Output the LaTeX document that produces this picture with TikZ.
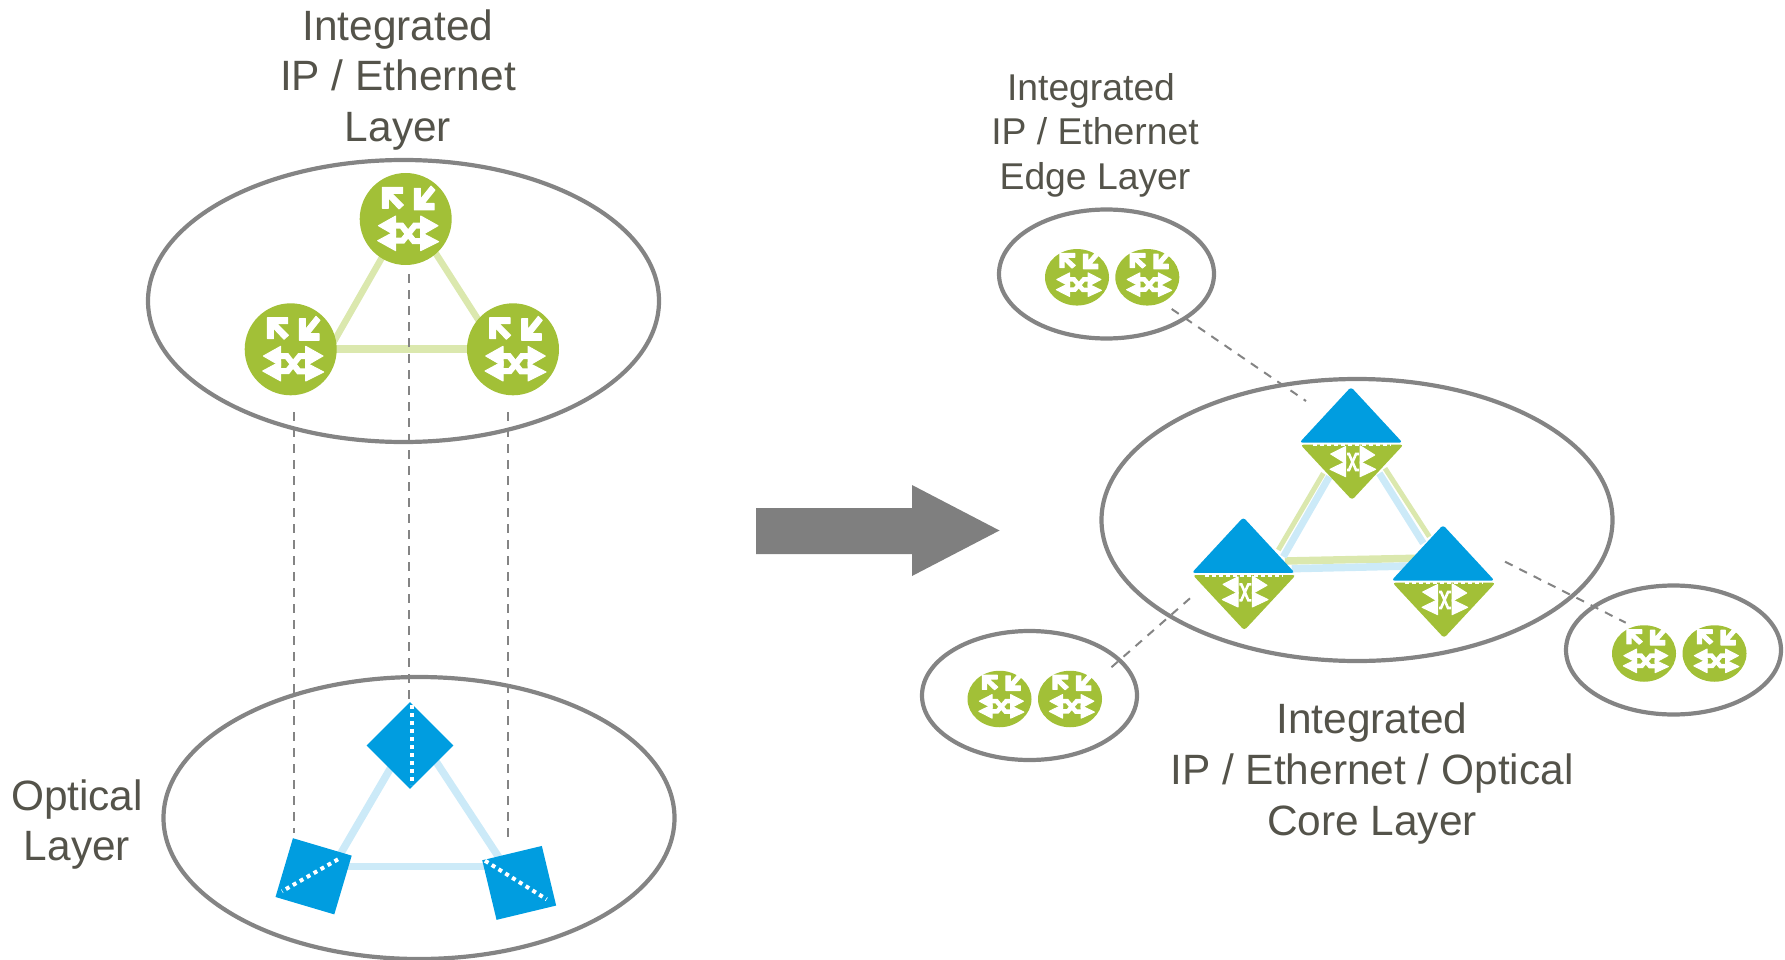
\documentclass[tikz,border=0pt]{standalone}
\usepackage{fontspec}
\setmainfont{Liberation Sans}
\usetikzlibrary{shapes.geometric}
\definecolor{rgreen}{HTML}{A2C037}
\definecolor{rblue}{HTML}{009DE0}
\definecolor{lgreen}{HTML}{DBE8AE}
\definecolor{lblue}{HTML}{CCEAF8}
\definecolor{ringgray}{HTML}{848484}
\definecolor{arrowgray}{HTML}{7F7F7F}
\definecolor{txtgray}{HTML}{54534A}
\tikzset{
  x=1pt,y=-1pt,
  ring/.style={draw=ringgray,line width=4.2pt,ellipse,inner sep=0pt,outer sep=0pt},
  bigring/.style={ring,minimum width=511pt,minimum height=282pt},
  smallring/.style={ring,minimum width=215pt,minimum height=129pt},
  router/.style={circle,fill=rgreen,minimum size=92pt,inner sep=0pt,outer sep=0pt},
  minirouter/.style={ellipse,fill=rgreen,minimum width=64pt,minimum height=56.5pt,inner sep=0pt,outer sep=0pt},
  oxc/.style={rectangle,fill=rblue,minimum size=61.3pt,inner sep=0pt,outer sep=0pt},
  glink/.style={draw=lgreen,line width=7.5pt},
  blink/.style={draw=lblue,line width=7.5pt},
  tie/.style={draw=ringgray,line width=2pt,dash pattern=on 8.5pt off 7.5pt},
  whitedots/.style={draw=white,line width=4pt,dash pattern=on 4pt off 4pt},
  biglabel/.style={text=txtgray,align=center,font=\fontsize{42.4}{50.7}\selectfont,inner sep=0pt},
  smalllabel/.style={text=txtgray,align=center,font=\fontsize{37.3}{44.4}\selectfont,inner sep=0pt},
  glyphfill/.style={fill=white,draw=white,line width=1pt,line join=round},
  pics/routerglyph/.style={code={
    \path[glyphfill] (-23.3,-31.7)--(-3,-31.7)--(-3,-25.7)--(-14,-25.7)--(-2.3,-14)--(-6.7,-10)--(-17.3,-21.3)--(-17.3,-10.7)--(-23.3,-10.7)--cycle;
    \path[glyphfill] (8.7,-9)--(8.7,-30.7)--(14.7,-30.7)--(14.7,-19.7)--(25.3,-33)--(29.3,-29)--(18.7,-15.7)--(28.3,-15.7)--(28.3,-9)--cycle;
    \path[glyphfill] (-27.3,6.7)--(-10,-3)--(-10,16.7)--cycle;
    \path[glyphfill] (-28,21.7)--(-10,12)--(-10,31.7)--cycle;
    \path[glyphfill] (32.3,6.7)--(15,-3)--(15,16.7)--cycle;
    \path[glyphfill] (33,22.7)--(15,13.3)--(15,31.7)--cycle;
    \draw[white,line width=#1pt] (-10,6.7)--(-4,6.7)--(8,22)--(15,22);
    \draw[white,line width=#1pt] (-10,21.7)--(-3,21.7)--(9,6.7)--(15,6.7);
  }},
  pics/coreunit/.style={code={
    \fill[rblue,rounded corners=3pt] (0,-2)--(-51.5,53.6)--(51.5,53.6)--cycle;
    \fill[rgreen,rounded corners=3pt] (-50.5,55.7)--(52.5,55.7)--(1,111)--cycle;
    \draw[white,line width=2.4pt,dash pattern=on 3.5pt off 3.5pt] (-38,56.2)--(40,56.2);
    \path[glyphfill] (-20.3,65)--(-5.3,57.5)--(-5.3,74.3)--cycle;
    \path[glyphfill] (-21,80.3)--(-5.3,72.7)--(-5.3,87.7)--cycle;
    \path[glyphfill] (23.7,66)--(9,56.7)--(9,74.3)--cycle;
    \path[glyphfill] (24.7,80.3)--(9,72.7)--(9,87.7)--cycle;
    \draw[white,line width=2.6pt] (-4,65)--(-2,65)--(5,81)--(8,81);
    \draw[white,line width=2.6pt] (-4,81)--(-2,81)--(5,65)--(8,65);
  }}
}
\begin{document}
\begin{tikzpicture}
\useasboundingbox (0,0) rectangle (1785,960);
% rings
\node[bigring] (ringtop) at (403.5,301) {};
\node[bigring] (ringopt) at (419,818) {};
\node[bigring] (ringcore) at (1357,520) {};
\node[smallring] (ringa) at (1106.5,274) {};
\node[smallring] (ringb) at (1029.5,695.5) {};
\node[smallring] (ringc) at (1673.5,650) {};
% left links and routers
\coordinate (v1) at (408.6,211);
\coordinate (v2) at (329.6,349);
\coordinate (v3) at (497,349);
\draw[glink,line width=6.5pt] (v1) -- (v2);
\draw[glink,line width=6.5pt] (v1) -- (v3);
\draw[glink] (v2) -- (v3);
\node[router] (r1) at (405.7,219) {};
\node[router] (r2) at (290.7,349.3) {};
\node[router] (r3) at (513,349.3) {};
\pic at (r1) {routerglyph=6};
\pic at (r2) {routerglyph=6};
\pic at (r3) {routerglyph=6};
% optical triangle
\coordinate (t1) at (414,728);
\coordinate (t2) at (333,866.7);
\coordinate (t3) at (505,866.7);
\draw[blink] (t1) -- (t2);
\draw[blink] (t1) -- (t3);
\draw[blink] (t2) -- (t3);
\node[oxc,rotate=45] (o1) at (410,745.5) {};
\node[oxc,rotate=-16.5] (o2) at (313.6,876.3) {};
\node[oxc,rotate=13.5] (o3) at (519.2,882.9) {};
\draw[whitedots] (412.3,705) -- (412.3,785);
\draw[whitedots] (338,859.3) -- (282,891.3);
\draw[whitedots] (485,860.7) -- (546.7,899.3);
% vertical ties
\coordinate (d1a) at (293.5,412); \coordinate (d1b) at (293.5,833);
\coordinate (d2a) at (408.5,274); \coordinate (d2b) at (408.5,701);
\coordinate (d3a) at (508,412);   \coordinate (d3b) at (508,841);
\draw[tie] (d1a) -- (d1b);
\draw[tie] (d2a) -- (d2b);
\draw[tie] (d3a) -- (d3b);
% big arrow
\fill[arrowgray] (756,508)--(912,508)--(912,485)--(999.5,530.5)--(912,576)--(912,554)--(756,554)--cycle;
% core links
\coordinate (ga1) at (1323.3,473.3); \coordinate (ga2) at (1278.3,550);
\coordinate (ba1) at (1329.3,476.7); \coordinate (ba2) at (1283.3,556.7);
\coordinate (gb1) at (1285,561);     \coordinate (gb2) at (1415,558.3);
\coordinate (bb1) at (1291.7,568.7); \coordinate (bb2) at (1410,566);
\coordinate (gc1) at (1385,468.3);   \coordinate (gc2) at (1429.3,536.7);
\coordinate (bc1) at (1379.3,473.3); \coordinate (bc2) at (1423.3,543.3);
\draw[glink,line width=5pt] (ga1) -- (ga2);
\draw[glink,line width=5pt] (gc1) -- (gc2);
\draw[glink] (gb1) -- (gb2);
\draw[blink,line width=7pt] (ba1) -- (ba2);
\draw[blink,line width=7pt] (bc1) -- (bc2);
\draw[blink] (bb1) -- (bb2);
% core units
\coordinate (u1) at (1351,389);
\coordinate (u2) at (1243.3,519.3);
\coordinate (u3) at (1443,527);
\pic at (u1) {coreunit};
\pic at (u2) {coreunit};
\pic at (u3) {coreunit};
% mini routers
\node[minirouter] (m1) at (1077,277.3) {};
\node[minirouter] (m2) at (1147.3,277.3) {};
\node[minirouter] (m3) at (999.5,699) {};
\node[minirouter] (m4) at (1070,699) {};
\node[minirouter] (m5) at (1644,653.5) {};
\node[minirouter] (m6) at (1714.5,653.5) {};
\foreach \m in {m1,m2,m3,m4,m5,m6}
  \pic[xscale=.74,yscale=.68,yshift=3.5pt] at (\m) {routerglyph=4.5};
% edge ties
\coordinate (e1a) at (1171.7,309);  \coordinate (e1b) at (1306,401);
\coordinate (e2a) at (1190,598.3);  \coordinate (e2b) at (1106,672);
\coordinate (e3a) at (1505,561.7);  \coordinate (e3b) at (1625.7,622.7);
\draw[tie] (e1a) -- (e1b);
\draw[tie] (e2a) -- (e2b);
\draw[tie] (e3a) -- (e3b);
% labels
\node[biglabel] (l1) at (398,80) {Integrated\\IP / Ethernet\\Layer};
\node[biglabel] (l2) at (77,824.5) {Optical\\Layer};
\node[smalllabel] (l3) at (1095,135) {Integrated\hspace*{8pt}\\IP / Ethernet\\Edge Layer};
\node[biglabel] (l4) at (1372,773.5) {Integrated\\IP / Ethernet / Optical\\Core Layer};
\end{tikzpicture}
\end{document}
